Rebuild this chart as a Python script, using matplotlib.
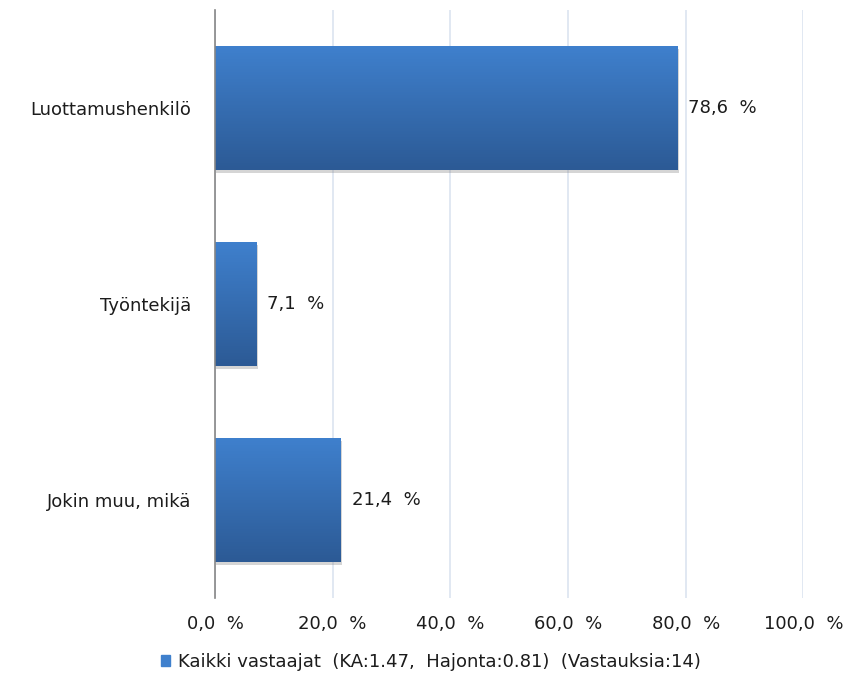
import matplotlib.pyplot as plt
import matplotlib.patheffects as pe
from matplotlib.patches import Patch
import numpy as np

# aineisto
vastaukset = ["Luottamushenkilö", "Työntekijä", "Jokin muu, mikä"]
osuudet = [78.6, 7.1, 21.4]
x_tikit = [0, 20, 40, 60, 80, 100]
selite = "Kaikki vastaajat  (KA:1.47,  Hajonta:0.81)  (Vastauksia:14)"

vari_yla = "#3f80cd"
vari_ala = "#2c5a95"
teksti = "#1c1c1c"
koko = 13

plt.rcParams['font.family'] = ['DejaVu Sans']

fig = plt.figure(figsize=(8.48, 6.78), dpi=100)
ax = fig.add_axes([0.2535, 0.118, 0.694, 0.867])

y = np.arange(len(vastaukset))
palkit = ax.barh(y, osuudet, height=0.63, color=vari_ala, zorder=3,
                 linewidth=0)

# liukuvari palkkeihin
liuku = np.linspace(0, 1, 256).reshape(-1, 1)
cmap = plt.matplotlib.colors.LinearSegmentedColormap.from_list(
    "sini", [vari_yla, vari_ala])
for p in palkit:
    p.set_path_effects([pe.SimplePatchShadow(offset=(1, -2),
                                             shadow_rgbFace="#777777",
                                             alpha=0.3), pe.Normal()])
    x0, y0 = p.get_x(), p.get_y()
    w, h = p.get_width(), p.get_height()
    im = ax.imshow(liuku, cmap=cmap, aspect="auto", zorder=4,
                   extent=[x0, x0 + w, y0 + h, y0], interpolation="bilinear")
    im.set_clip_path(p)

for yi, v in zip(y, osuudet):
    ax.text(v + 1.8, yi, f"{v:.1f}  %".replace(".", ","), va="center",
            ha="left", fontsize=koko, color=teksti, zorder=5)

ax.set_xlim(0, 100)
ax.set_ylim(len(vastaukset) - 0.5, -0.5)
ax.set_xticks(x_tikit)
ax.set_xticklabels([f"{t:.1f}  %".replace(".", ",") for t in x_tikit],
                   fontsize=koko, color=teksti)
ax.set_yticks(y)
ax.set_yticklabels(vastaukset, fontsize=koko, color=teksti)
ax.tick_params(axis="x", length=0, pad=12)
ax.tick_params(axis="y", length=0, pad=17)

ax.grid(axis="x", color="#dce4f0", linewidth=1.2, zorder=0)
ax.set_axisbelow(True)
for s in ["top", "right", "bottom"]:
    ax.spines[s].set_visible(False)
ax.spines["left"].set_color("#868686")
ax.spines["left"].set_linewidth(1.2)
ax.spines["left"].set_zorder(6)

# selite alareunaan
fig.legend(handles=[Patch(color=vari_yla, label=selite)],
           loc="center", bbox_to_anchor=(431 / 848, 1 - 662 / 678),
           frameon=False, fontsize=koko, handlelength=0.5, handleheight=0.5,
           handletextpad=0.4, labelcolor=teksti)

fig.savefig("out.png", dpi=100)
